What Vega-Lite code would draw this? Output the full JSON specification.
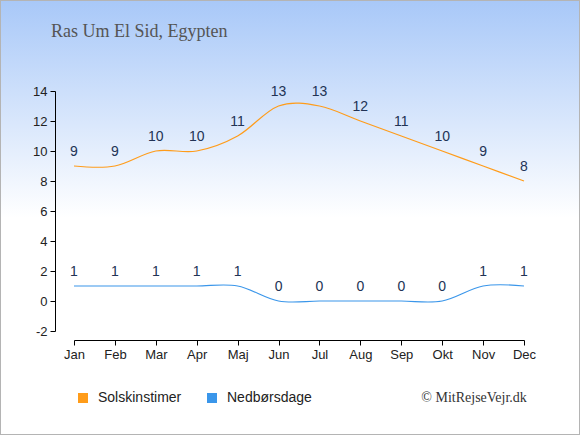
{
  "$schema": "https://vega.github.io/schema/vega-lite/v6.json",
  "width": 450,
  "height": 240,
  "autosize": {"type": "none"},
  "padding": {"left": 74, "top": 91, "right": 56, "bottom": 104},
  "title": {
    "text": "Ras Um El Sid, Egypten",
    "anchor": "start",
    "frame": "group",
    "dx": -23,
    "offset": -60,
    "baseline": "bottom",
    "font": "Liberation Serif",
    "fontSize": 18,
    "fontWeight": "normal",
    "color": "#555555",
    "zindex": 1
  },
  "layer": [
    {
      "data": {"values": [{}]},
      "mark": {
        "type": "rect",
        "stroke": "#b4b4b4",
        "strokeWidth": 2,
        "fill": {
          "gradient": "linear",
          "x1": 0, "y1": 0, "x2": 0, "y2": 1,
          "stops": [
            {"offset": 0, "color": "#a8c8f8"},
            {"offset": 0.5, "color": "#ffffff"},
            {"offset": 1, "color": "#ffffff"}
          ]
        }
      },
      "encoding": {
        "x": {"datum": -0.809, "type": "quantitative"},
        "x2": {"datum": 13.369},
        "y": {"datum": 20.067, "type": "quantitative"},
        "y2": {"datum": -8.933}
      }
    },
    {
      "data": {
        "values": [
          {"m": 1, "serie": "Solskinstimer", "v": 9},
          {"m": 2, "serie": "Solskinstimer", "v": 9},
          {"m": 3, "serie": "Solskinstimer", "v": 10},
          {"m": 4, "serie": "Solskinstimer", "v": 10},
          {"m": 5, "serie": "Solskinstimer", "v": 11},
          {"m": 6, "serie": "Solskinstimer", "v": 13},
          {"m": 7, "serie": "Solskinstimer", "v": 13},
          {"m": 8, "serie": "Solskinstimer", "v": 12},
          {"m": 9, "serie": "Solskinstimer", "v": 11},
          {"m": 10, "serie": "Solskinstimer", "v": 10},
          {"m": 11, "serie": "Solskinstimer", "v": 9},
          {"m": 12, "serie": "Solskinstimer", "v": 8},
          {"m": 1, "serie": "Nedbørsdage", "v": 1},
          {"m": 2, "serie": "Nedbørsdage", "v": 1},
          {"m": 3, "serie": "Nedbørsdage", "v": 1},
          {"m": 4, "serie": "Nedbørsdage", "v": 1},
          {"m": 5, "serie": "Nedbørsdage", "v": 1},
          {"m": 6, "serie": "Nedbørsdage", "v": 0},
          {"m": 7, "serie": "Nedbørsdage", "v": 0},
          {"m": 8, "serie": "Nedbørsdage", "v": 0},
          {"m": 9, "serie": "Nedbørsdage", "v": 0},
          {"m": 10, "serie": "Nedbørsdage", "v": 0},
          {"m": 11, "serie": "Nedbørsdage", "v": 1},
          {"m": 12, "serie": "Nedbørsdage", "v": 1}
        ]
      },
      "encoding": {
        "x": {
          "field": "m",
          "type": "quantitative",
          "scale": {"domain": [1, 12], "nice": false, "zero": false},
          "axis": {
            "title": null,
            "values": [1, 2, 3, 4, 5, 6, 7, 8, 9, 10, 11, 12],
            "tickCount": 30,
            "labelExpr": "['Jan','Feb','Mar','Apr','Maj','Jun','Jul','Aug','Sep','Okt','Nov','Dec'][datum.value - 1]",
            "labelFlush": false,
            "labelOverlap": false,
            "offset": 9,
            "zindex": 1
          }
        },
        "y": {
          "field": "v",
          "type": "quantitative",
          "scale": {"domain": [-2, 14], "nice": false, "zero": false},
          "axis": {
            "title": null,
            "values": [-2, 0, 2, 4, 6, 8, 10, 12, 14],
            "tickCount": 30,
            "labelExpr": "'' + datum.value",
            "labelFlush": false,
            "labelOverlap": false,
            "offset": 19,
            "zindex": 1
          }
        },
        "color": {
          "field": "serie",
          "type": "nominal",
          "scale": {"domain": ["Solskinstimer", "Nedbørsdage"], "range": ["#ff9c1a", "#3a96ea"]},
          "legend": {
            "title": null,
            "orient": "none",
            "direction": "horizontal",
            "legendX": 2,
            "legendY": 300,
            "symbolType": "square",
            "symbolSize": 100,
            "labelFont": "Liberation Sans",
            "labelFontSize": 14,
            "labelColor": "#222222",
            "labelOffset": 8,
            "columnPadding": 23,
            "padding": 0,
            "zindex": 1,
            "encode": {
              "symbols": {
                "update": {
                  "fill": {"scale": "color", "field": "value"},
                  "fillOpacity": {"value": 1},
                  "strokeWidth": {"value": 0}
                }
              }
            }
          }
        }
      },
      "layer": [
        {"mark": {"type": "line", "interpolate": "cardinal", "strokeWidth": 1.2}},
        {
          "mark": {
            "type": "text",
            "dy": -14,
            "baseline": "middle",
            "font": "Liberation Sans",
            "fontSize": 14
          },
          "encoding": {
            "text": {"field": "v", "type": "quantitative"},
            "color": {"value": "#223355"}
          }
        }
      ]
    },
    {
      "data": {"values": [{"t": "© MitRejseVejr.dk"}]},
      "mark": {
        "type": "text",
        "align": "right",
        "baseline": "middle",
        "font": "Liberation Serif",
        "fontSize": 14,
        "color": "#333333"
      },
      "encoding": {
        "x": {"datum": 12.07, "type": "quantitative"},
        "y": {"datum": -6.47, "type": "quantitative"},
        "text": {"field": "t"}
      }
    }
  ],
  "config": {
    "view": {"stroke": null},
    "axis": {
      "grid": false,
      "domainColor": "#000000",
      "tickColor": "#000000",
      "tickSize": 5,
      "labelFont": "Liberation Sans",
      "labelFontSize": 13,
      "labelColor": "#222222",
      "labelPadding": 3
    }
  }
}
